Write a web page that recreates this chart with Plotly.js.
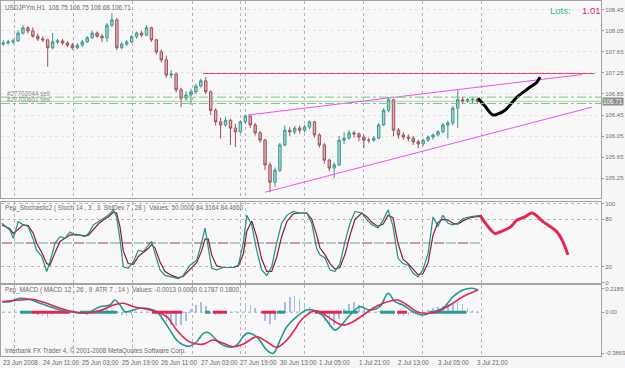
<!DOCTYPE html>
<html><head><meta charset="utf-8">
<script src="https://cdn.plot.ly/plotly-3.0.1.min.js"></script>
<style>html,body{margin:0;padding:0;background:#f6f6f6;}#chart{width:625px;height:368px;}</style>
</head><body><div id="chart"></div>
<script>
// ---- price candles (2-hour aggregates, USDJPYm H1) ----
const opens = [107.80,107.82,107.84,107.86,108.01,108.11,108.05,107.95,107.90,107.88,
107.73,107.84,107.86,107.82,107.78,107.73,107.78,107.84,107.92,108.01,
107.95,107.92,108.16,108.26,107.73,107.80,107.84,107.94,108.01,107.97,
108.11,107.88,107.65,107.50,107.21,107.23,106.93,106.77,106.83,106.89,
107.00,107.10,106.89,106.54,106.32,106.26,106.35,106.20,106.13,106.32,
106.43,106.26,106.11,105.97,105.50,105.17,105.40,105.88,106.16,106.13,
106.20,106.16,106.22,106.32,106.07,105.88,105.59,105.44,105.50,105.97,
106.01,106.11,106.09,106.03,105.97,105.97,106.01,106.26,106.54,106.74,
106.16,106.07,106.03,106.01,105.94,105.90,105.97,106.03,106.07,106.13,
106.26,106.30,106.58,106.74,106.72,106.74,106.75];
const highs = [107.88,107.88,107.90,108.06,108.16,108.14,108.12,108.00,107.95,107.90,
108.01,107.90,107.90,107.86,107.82,107.82,107.88,107.95,108.05,108.04,
107.99,108.20,108.39,108.30,107.84,107.88,107.97,108.04,108.05,108.16,
108.13,107.90,107.70,107.58,107.30,107.26,106.97,106.90,106.95,107.05,
107.14,107.17,106.92,106.58,106.40,106.42,106.38,106.28,106.35,106.46,
106.45,106.30,106.15,106.00,105.55,105.45,105.92,106.25,106.22,106.24,
106.25,106.26,106.35,106.34,106.10,105.92,105.62,105.55,106.05,106.12,
106.16,106.15,106.12,106.07,106.02,106.05,106.30,106.58,106.79,106.76,
106.20,106.12,106.08,106.05,105.98,106.00,106.06,106.10,106.16,106.30,
106.34,106.62,106.93,106.80,106.78,106.78,106.75];
const lows = [107.76,107.79,107.80,107.84,107.98,108.00,107.92,107.86,107.84,107.37,
107.70,107.80,107.78,107.74,107.69,107.70,107.75,107.82,107.90,107.92,
107.84,107.84,108.12,107.69,107.70,107.76,107.82,107.90,107.93,107.95,
107.84,107.60,107.45,107.16,107.15,106.88,106.60,106.72,106.64,106.85,
106.97,106.85,106.45,106.25,106.00,106.22,105.88,105.84,106.10,106.28,
106.20,106.06,105.92,105.40,104.98,105.08,105.36,105.85,106.05,106.08,
106.10,106.12,106.18,106.02,105.83,105.52,105.38,105.25,105.48,105.90,
105.98,106.02,105.95,105.82,105.92,105.94,105.99,106.24,106.50,106.05,
106.00,105.98,105.95,105.88,105.82,105.86,105.94,105.98,106.04,106.10,
106.00,106.25,106.20,106.66,106.68,106.68,106.68];
const closes = [107.82,107.84,107.86,108.01,108.11,108.05,107.95,107.90,107.88,107.73,
107.84,107.86,107.82,107.78,107.73,107.78,107.84,107.92,108.01,107.95,
107.92,108.16,108.26,107.73,107.80,107.84,107.94,108.01,107.97,108.11,
107.88,107.65,107.50,107.21,107.23,106.93,106.77,106.83,106.89,107.00,
107.10,106.89,106.54,106.32,106.26,106.35,106.20,106.13,106.32,106.43,
106.26,106.11,105.97,105.50,105.17,105.40,105.88,106.16,106.13,106.20,
106.16,106.22,106.32,106.07,105.88,105.59,105.44,105.50,105.97,106.01,
106.11,106.09,106.03,105.97,105.97,106.01,106.26,106.54,106.74,106.16,
106.07,106.03,106.01,105.94,105.90,105.97,106.03,106.07,106.13,106.26,
106.30,106.58,106.74,106.72,106.74,106.75,106.71];

// ---- drawn objects on price panel (bar index, price) ----
const upperLineX = [99.6, 234.8], upperLineY = [106.45, 107.22];
const lowerLineX = [106.5, 238.9], lowerLineY = [104.98, 106.60];
const resistX = [81.4, 240], resistY = [107.24, 107.24];
const sellLevels = [106.79, 106.67];
const lastPrice = 106.71;
const sketchX = [192.7,195.5,198.8,200.8,203.6,208.5,212.6,216.6,217.8];
const sketchY = [106.77,106.62,106.45,106.47,106.54,106.79,106.94,107.08,107.17];

// ---- stochastic ----
const stochX = [0,3.2,4.6,6.6,8.6,10.6,12.7,14,16.1,18.1,19.4,21.5,23.5,25.5,27.5,29.6,31.6,33.6,35,37,
39,41,43,45.1,46.4,47.8,49.1,51.1,53.2,55.2,57.2,59.2,60.6,61.9,64,66,68.7,71.4,73.4,76.1,
78.8,80.8,82.2,83.5,84.9,86.9,89.6,93.6,95.7,97.7,99.1,101.1,103.1,105.1,107.2,109.2,111.2,113.2,115.3,117.9,
120.6,123.4,125.4,127.4,128.7,130.8,132.8,134.8,136.8,138.9,140.9,142.9,145.7,147.8,149.8,152.2,154.3,156.3,158.3,160.3,
162.3,164.4,166.4,168.4,170.4,172.5,174.5,176.5,178.5,180.6,182.6,184.6,186.6,189.5,193.5];
const stochK = [75,66,56,77,73,71,54,41,33,14,26,50,58,56,64,60,60,58,62,73,
77,81,85,92,83,54,20,18,26,41,39,47,52,37,16,9,7,5,9,22,
28,50,69,45,18,16,19,19,22,50,85,73,41,16,9,20,50,75,85,90,
88,88,75,43,35,31,16,14,24,52,75,90,88,79,73,69,79,92,71,31,
24,22,12,7,16,37,83,71,85,75,73,75,81,83,85];
const stochD = [73,68,62,68,73,72,62,50,38,24,22,38,52,56,60,61,60,59,60,67,
74,79,83,89,88,70,40,24,23,33,38,43,48,44,26,14,9,6,8,17,
25,40,55,55,35,21,19,19,21,36,65,78,58,30,14,14,32,58,77,87,
88,88,80,60,44,35,24,17,19,36,60,80,88,83,76,71,74,85,82,50,
30,24,17,10,11,25,60,76,80,79,75,74,78,82,84];
const projX = [193.5,196.5,199.6,201.6,205.7,208.5,211.7,214.6,219,224.7,227,229.1];
const projV = [85,72,62,64,70,79,83,88,77,64,52,35];

// ---- MACD ----
const macdX = [0,3.2,7.3,11.3,15.4,19.4,23.5,27.5,31.6,35.6,39.7,43.7,45.7,47.8,49.8,53.2,55.9,59.9,62.6,65.3,
68,70.7,73.4,76.1,78.8,81.5,83.5,85.5,88.3,92.3,95,99.1,103.1,107.2,109.8,112.6,115.3,119.3,123.4,126,
128.7,130.8,134.8,136.8,140.9,144.9,149,153,156.3,159.1,162.3,166.4,170.4,174.5,178.5,182.6,186.6,190.3,192.7];
const macdMain = [0.099,0.099,0.131,0.12,0.084,0.052,0.02,0.005,-0.01,0.005,0.052,0.068,0.115,0.068,0.005,0.02,0.037,0.03,0.005,-0.073,
-0.168,-0.262,-0.309,-0.318,-0.278,-0.199,-0.19,-0.231,-0.293,-0.33,-0.309,-0.199,-0.231,-0.356,-0.387,-0.262,-0.137,-0.042,0.02,0.02,
-0.01,-0.058,-0.168,-0.137,-0.026,0.052,0.02,0.052,0.178,0.099,0.068,0.005,-0.026,0.005,0.037,0.146,0.209,0.225,0.209];
const signalX = [0,7.3,12.7,18.1,23.5,28.9,34.3,39.7,45.1,49.1,53.2,58.6,62.6,66.7,70.7,74.8,77.5,81.5,85.5,89.6,
93.6,97.7,103.1,107.2,111.2,115.3,119.3,120.6,123.4,126,128.7,132.8,138,142.1,146.2,150.2,154.3,160,164,168,
172.1,176.1,181.4,186.6,192.7];
const macdSignal = [0.099,0.115,0.12,0.084,0.037,0.005,-0.005,0.015,0.068,0.084,0.052,0.027,0.005,-0.042,-0.168,-0.262,-0.293,-0.3,-0.262,-0.293,
-0.325,-0.3,-0.231,-0.278,-0.33,-0.262,-0.137,-0.089,-0.026,0.01,0.005,-0.058,-0.121,-0.089,-0.026,0.037,0.084,0.115,0.068,0.005,
-0.01,0.005,0.068,0.146,0.209];
const macdHist = [0,0,0,0,0,0,-0.02,-0.03,-0.04,-0.05,
-0.03,0,0,0,0,0,-0.02,-0.03,0.01,0.02,
0.02,0.03,0.02,-0.01,-0.03,-0.04,-0.03,-0.01,0,0.01,
0,-0.03,-0.06,-0.09,-0.12,-0.13,-0.12,-0.08,0.03,0.07,
0.1,0.06,-0.02,-0.03,-0.03,-0.02,0,0.01,0.03,0.08,
0.07,0.04,0,-0.08,-0.11,-0.07,0.02,0.1,0.14,0.15,
0.12,0.08,0.05,0.02,-0.03,-0.08,-0.14,-0.12,-0.06,0.03,
0.08,0.1,0.07,0.03,0.01,0,0.01,-0.01,-0.02,-0.03,
-0.04,-0.04,-0.03,-0.02,-0.01,0,0.02,0.04,0.05,0.06,
0.08,0.09,0.1,0.08,0.04,0.02,0.01];
const tealSegStart = [7.3,31.6,82.2,111.3,138,153,173];
const tealSegEnd   = [12.1,46.6,84.2,114.6,144,159,188];
const redSegStart  = [12.1,60.7,85.4,105,126.7,160];
const redSegEnd    = [27.5,72.9,91.1,111,137.6,164];

// ---- axis labels ----
const timeTickBars = [0,16,32,48,64,80,96,112,128,144,160,176,192];
const timeTickLabels = ['23 Jun 2008','24 Jun 11:00','25 Jun 03:00','25 Jun 19:00','26 Jun 11:00','27 Jun 03:00',
  '27 Jun 19:00','30 Jun 13:00','1 Jul 05:00','1 Jul 21:00','2 Jul 13:00','3 Jul 05:00','3 Jul 21:00'];
const gridBars = [5,29,53,77,96.6,98.7,122.4,146.3,170.2,194];
const priceTicks = [104.85,105.25,105.65,106.05,106.45,106.85,107.25,107.65,108.05,108.45];
const stochTicks = [0,20,80,100];
const macdTicks = [-0.3869,0,0.2185];
const macdTickText = ['-0.3869','0.00','0.2185'];

// ---- build ----
const candleX = closes.map((_, k) => 2*k + 0.5);
const histX = macdHist.map((_, k) => 2*k + 0.5);
function segs(s, e) { const x = [], y = []; s.forEach((v, i) => { x.push(v, e[i], null); y.push(0, 0, null); }); return {x, y}; }
const tS = segs(tealSegStart, tealSegEnd), rS = segs(redSegStart, redSegEnd);
const lastBar = stochX[stochX.length-1];

const TEAL = '#1f8f88', DRED = '#8b1c2c', CRIM = '#e3264f';
const traces = [
  {type:'candlestick', x:candleX, open:opens, high:highs, low:lows, close:closes, xaxis:'x', yaxis:'y',
   increasing:{line:{color:'#3a9690', width:1}, fillcolor:'#a8d6d1'},
   decreasing:{line:{color:'#a0505a', width:1}, fillcolor:'#dcb0b4'}, whiskerwidth:0, hoverinfo:'skip'},
  {type:'scatter', mode:'lines', x:upperLineX, y:upperLineY, xaxis:'x', yaxis:'y', line:{color:'#f050f0', width:1}},
  {type:'scatter', mode:'lines', x:lowerLineX, y:lowerLineY, xaxis:'x', yaxis:'y', line:{color:'#f050f0', width:1}},
  {type:'scatter', mode:'lines', x:resistX, y:resistY, xaxis:'x', yaxis:'y', line:{color:'#e8486a', width:1.2}},
  {type:'scatter', mode:'lines', x:sketchX, y:sketchY, xaxis:'x', yaxis:'y', line:{color:'#000', width:3, shape:'spline'}},
  // stochastic
  {type:'scatter', mode:'lines', x:[0,lastBar], y:[50,50], xaxis:'x2', yaxis:'y2', line:{color:'#a04050', width:1, dash:'10px,14px'}},
  {type:'scatter', mode:'lines', x:[0,lastBar], y:[50,50], xaxis:'x2', yaxis:'y2', line:{color:'#5aa8a2', width:1, dash:'0px,12px,10px,2px'}},
  {type:'scatter', mode:'lines', x:stochX, y:stochD, xaxis:'x2', yaxis:'y2', line:{color:DRED, width:1.2}},
  {type:'scatter', mode:'lines', x:stochX, y:stochK, xaxis:'x2', yaxis:'y2', line:{color:TEAL, width:1.2}},
  {type:'scatter', mode:'lines', x:projX, y:projV, xaxis:'x2', yaxis:'y2', line:{color:CRIM, width:3, shape:'spline'}},
  // MACD
  {type:'bar', x:histX, y:macdHist, xaxis:'x3', yaxis:'y3', width:0.6, marker:{color:'#a9bdec', line:{width:0}}},
  {type:'scatter', mode:'lines', x:[0,lastBar], y:[0,0], xaxis:'x3', yaxis:'y3', line:{color:'#a8a8a8', width:1, dash:'dot'}},
  {type:'scatter', mode:'lines', x:tS.x, y:tS.y, xaxis:'x3', yaxis:'y3', line:{color:'#2a9a92', width:3}},
  {type:'scatter', mode:'lines', x:rS.x, y:rS.y, xaxis:'x3', yaxis:'y3', line:{color:CRIM, width:3}},
  {type:'scatter', mode:'lines', x:macdX, y:macdMain, xaxis:'x3', yaxis:'y3', line:{color:'#1f9a92', width:1.6, shape:'spline'}},
  {type:'scatter', mode:'lines', x:signalX, y:macdSignal, xaxis:'x3', yaxis:'y3', line:{color:CRIM, width:1.6, shape:'spline'}}
];

const H = 368, L0 = 1, PW = 600;
const py = p => 1 - p/H;          // pixel row -> paper y
const px = p => (p - L0)/PW;      // pixel col -> paper x
const XR = [-0.4, 242.5];
const xBase = {range:XR, tickvals:gridBars, showticklabels:false, ticks:'', showgrid:true, gridcolor:'#b4b4b4',
  griddash:'dot', gridwidth:1, zeroline:false, showline:true, mirror:true, linecolor:'#a4a4a4', fixedrange:true};
const tickFont = {family:'Liberation Sans, Arial, sans-serif', size:6, color:'#707070'};
const yBase = {side:'right', tickfont:tickFont, ticks:'outside', ticklen:2, tickcolor:'#999', zeroline:false,
  showline:true, mirror:true, linecolor:'#a4a4a4', fixedrange:true, ticklabelstandoff:0};

const smallFont = {family:'Liberation Sans, Arial, sans-serif', size:6.3, color:'#6a6a6a'};
const ann = [
  {text:'USDJPYm,H1  106.75 106.75 106.68 106.71', x:px(3), y:py(7)},
  {text:'#27702044 sell', x:px(5), y:py(93), font:Object.assign({}, smallFont, {color:'#8a8a8a'})},
  {text:'#27700601 sell', x:px(5), y:py(99), font:Object.assign({}, smallFont, {color:'#8a8a8a'})},
  {text:'Pep_Stochastic2 ( Stoch 14 , 3 , 3  StdDev 7 , 28 )  Values: 50.0000 84.3164 84.4660', x:px(3), y:py(208)},
  {text:'Pep_MACD ( MACD 12 , 26 , 9  ATR 7 , 14 )  Values: -0.0013 0.0000 0.1787 0.1800', x:px(3), y:py(290)},
  {text:'Interbank FX Trader 4, © 2001-2008 MetaQuotes Software Corp.', x:px(3), y:py(351)},
  {text:'Lots:', x:px(548), y:py(11), font:{family:'Liberation Sans, Arial, sans-serif', size:9.5, color:'#2fb39c'}},
  {text:'1.01', x:px(580), y:py(11), font:{family:'Liberation Sans, Arial, sans-serif', size:9.5, color:CRIM}}
].map(a => Object.assign({xref:'paper', yref:'paper', xanchor:'left', yanchor:'middle', showarrow:false, font:smallFont}, a));
timeTickBars.forEach((b, i) => ann.push({text:timeTickLabels[i], x:b, xref:'x3', y:py(362), yref:'paper',
  xanchor:'left', yanchor:'middle', showarrow:false, font:smallFont, xshift:-1}));
ann.push({text:lastPrice.toFixed(2), x:1, xref:'paper', y:lastPrice, yref:'y', xanchor:'left', yanchor:'middle',
  showarrow:false, bgcolor:'#8c8c8c', font:{family:'Liberation Sans, Arial, sans-serif', size:6.3, color:'#fff'}, xshift:1, borderpad:0});

const shapes = [];
sellLevels.forEach(v => shapes.push({type:'line', xref:'paper', yref:'y', x0:0, x1:1, y0:v, y1:v, line:{color:'#6fd06f', width:1, dash:'dashdot'}}));
shapes.push({type:'line', xref:'paper', yref:'y', x0:0, x1:1, y0:lastPrice, y1:lastPrice, line:{color:'#c4c4c4', width:1}, layer:'below'});

const layout = {
  width:625, height:368, margin:{l:L0, r:24, t:0, b:0}, showlegend:false,
  paper_bgcolor:'#f6f6f6', plot_bgcolor:'#f8f8f8', bargap:0,
  xaxis:Object.assign({}, xBase, {anchor:'y', rangeslider:{visible:false}}),
  xaxis2:Object.assign({}, xBase, {anchor:'y2', matches:'x'}),
  xaxis3:Object.assign({}, xBase, {anchor:'y3', matches:'x'}),
  yaxis:Object.assign({}, yBase, {domain:[py(198), py(1)], range:[104.87,108.62], tickvals:priceTicks,
     ticktext:priceTicks.map(v => v.toFixed(2)), showgrid:true, gridcolor:'#e4e4e4', griddash:'dot'}),
  yaxis2:Object.assign({}, yBase, {domain:[py(283), py(202)], range:[-0.6,101.9], tickvals:stochTicks,
     showgrid:true, gridcolor:'#b8b8b8', griddash:'dot'}),
  yaxis3:Object.assign({}, yBase, {domain:[py(356), py(285)], range:[-0.412,0.256], tickvals:macdTicks,
     ticktext:macdTickText, showgrid:false}),
  annotations:ann, shapes:shapes
};
Plotly.newPlot('chart', traces, layout, {staticPlot:true, displayModeBar:false});
</script></body></html>
